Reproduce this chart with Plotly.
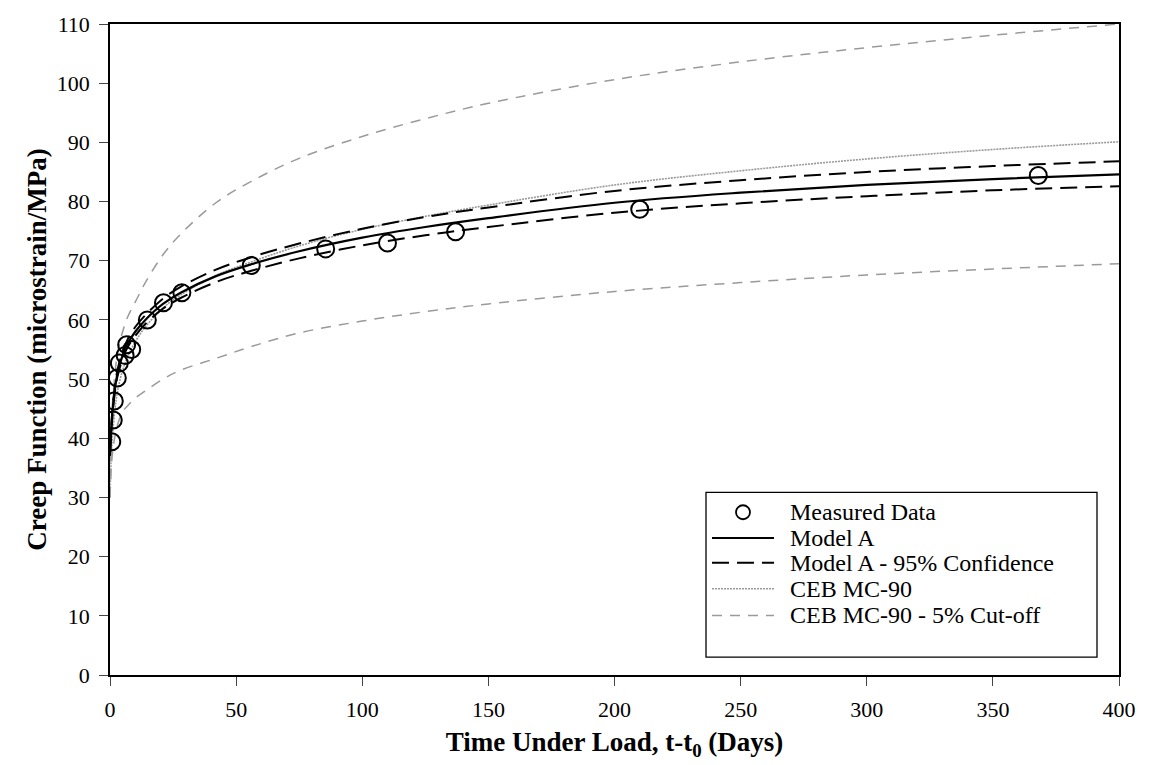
import plotly.graph_objects as go

# Measured creep function
meas_days = [0.7, 1.3, 1.7, 2.9, 3.7, 6.0, 6.6, 8.6, 14.8, 21.2, 28.5, 56, 85.5, 110, 137, 210, 368]
meas_creep = [39.4, 43.1, 46.3, 50.2, 52.7, 54.0, 55.8, 55.0, 60.0, 62.9, 64.6, 69.2, 72.0, 73.0, 74.9, 78.7, 84.4]

# Model prediction times (days)
model_days = [0, 0.5, 1, 2, 3, 5, 7, 10, 14, 21, 28, 42, 56, 75, 100, 125, 150, 200, 250, 300, 350, 400]

model_a = [37.5, 41.5, 44.5, 48.5, 51.0, 54.0, 56.0, 58.0, 60.0, 62.7, 64.6, 67.4, 69.4, 71.6, 73.9, 75.7, 77.2, 79.8, 81.5, 82.8, 83.8, 84.6]
model_a_hi = [38.0, 42.0, 45.0, 49.0, 51.6, 54.6, 56.7, 58.8, 60.8, 63.6, 65.6, 68.5, 70.6, 72.9, 75.4, 77.4, 79.0, 81.8, 83.6, 85.0, 86.0, 86.8]
model_a_lo = [37.0, 41.0, 44.0, 48.0, 50.5, 53.4, 55.4, 57.3, 59.3, 61.9, 63.7, 66.4, 68.3, 70.4, 72.6, 74.3, 75.7, 78.1, 79.7, 80.9, 81.9, 82.6]

ceb = [30.0, 37.0, 40.5, 45.0, 48.0, 51.5, 53.8, 56.3, 58.8, 62.0, 64.2, 67.5, 69.8, 72.5, 75.3, 77.5, 79.4, 82.8, 85.2, 87.2, 88.8, 90.1]
ceb_hi = [30.0, 42.0, 46.0, 51.0, 54.5, 58.0, 60.5, 63.0, 66.3, 71.0, 74.5, 79.8, 83.4, 87.3, 91.0, 94.0, 96.6, 100.6, 103.6, 106.0, 108.1, 110.0]
ceb_lo = [30.0, 35.0, 37.5, 40.5, 42.3, 44.5, 45.5, 46.8, 48.0, 50.0, 51.5, 53.5, 55.5, 57.8, 59.8, 61.4, 62.7, 64.8, 66.3, 67.6, 68.6, 69.5]

x_ticks = [0, 50, 100, 150, 200, 250, 300, 350, 400]
y_ticks = [0, 10, 20, 30, 40, 50, 60, 70, 80, 90, 100, 110]

SERIF = "Liberation Serif, Times New Roman, serif"
GREY = "#9a9a9a"
DASH_A = "17px,8px"
DASH_CEB = "2px,1px"
DASH_CUT = "10px,8px"

fig = go.Figure()

# CEB MC-90 5% cut-off bounds
for bound in (ceb_hi, ceb_lo):
    fig.add_trace(go.Scatter(x=model_days, y=bound, mode="lines", name="CEB MC-90 - 5% Cut-off",
                             line=dict(color=GREY, width=1.5, dash=DASH_CUT, shape="spline")))
# CEB MC-90 mean
fig.add_trace(go.Scatter(x=model_days, y=ceb, mode="lines", name="CEB MC-90",
                         line=dict(color=GREY, width=1.6, dash=DASH_CEB, shape="spline")))
# Model A confidence band
for bound in (model_a_hi, model_a_lo):
    fig.add_trace(go.Scatter(x=model_days, y=bound, mode="lines", name="Model A - 95% Confidence",
                             line=dict(color="black", width=2, dash=DASH_A, shape="spline")))
# Model A
fig.add_trace(go.Scatter(x=model_days, y=model_a, mode="lines", name="Model A",
                         line=dict(color="black", width=2.2, shape="spline")))
# Measured data
fig.add_trace(go.Scatter(x=meas_days, y=meas_creep, mode="markers", name="Measured Data",
                         marker=dict(symbol="circle-open", size=17, color="black", line=dict(width=2))))

# Legend: framed box with sample marks drawn on an overlay axis in pixel units
W, H = 1151, 765
plot_l, plot_r, plot_t, plot_b = 110, 1119, 19, 675

legend_items = [
    ("Measured Data", "marker", None, None),
    ("Model A", "line", "black", "solid"),
    ("Model A - 95% Confidence", "line", "black", DASH_A),
    ("CEB MC-90", "line", GREY, DASH_CEB),
    ("CEB MC-90 - 5% Cut-off", "line", GREY, DASH_CUT),
]
box_l, box_r, box_t, box_b = 706, 1097, 491, 657
row_y = [511, 537, 562, 588, 615]
line_x0, line_x1, mark_x, text_x = 712, 774, 743, 788

fig.add_shape(type="rect", xref="x2", yref="y2", x0=box_l, x1=box_r, y0=box_t, y1=box_b,
              line=dict(color="black", width=1.3), fillcolor="white", layer="below")

for (label, kind, color, dash), ry in zip(legend_items, row_y):
    if kind == "marker":
        fig.add_trace(go.Scatter(x=[mark_x], y=[ry], xaxis="x2", yaxis="y2",
                                 mode="markers", hoverinfo="skip",
                                 marker=dict(symbol="circle-open", size=14, color="black",
                                             line=dict(width=1.8))))
    else:
        fig.add_trace(go.Scatter(x=[line_x0, line_x1], y=[ry, ry], xaxis="x2", yaxis="y2",
                                 mode="lines", hoverinfo="skip",
                                 line=dict(color=color, width=2 if color == "black" else 1.5, dash=dash)))
    fig.add_annotation(x=text_x, y=ry, xref="x2", yref="y2", text=label, showarrow=False,
                       xanchor="left", yanchor="middle",
                       font=dict(family=SERIF, size=24, color="black"))

fig.update_layout(
    width=W, height=H,
    margin=dict(l=plot_l, r=W - plot_r, t=plot_t, b=H - plot_b),
    paper_bgcolor="white", plot_bgcolor="white",
    font=dict(family=SERIF, color="black"),
    showlegend=False,
    xaxis=dict(range=[0, 400], tickvals=x_ticks, ticks="outside", ticklen=9, tickwidth=1.3,
               showline=True, linecolor="black", linewidth=1.5, mirror=True, showgrid=False,
               zeroline=False, tickfont=dict(family=SERIF, size=22), ticklabelstandoff=5,
               title=dict(text="<b>Time Under Load, t-t<sub>0</sub> (Days)</b>",
                          font=dict(family=SERIF, size=27), standoff=11)),
    yaxis=dict(range=[0, 110], tickvals=y_ticks, ticks="outside", ticklen=9, tickwidth=1.3,
               showline=True, linecolor="black", linewidth=1.5, mirror=True, showgrid=False,
               zeroline=False, tickfont=dict(family=SERIF, size=22), ticklabelstandoff=5,
               title=dict(text="<b>Creep Function (microstrain/MPa)</b>",
                          font=dict(family=SERIF, size=27), standoff=2)),
    # pixel-unit overlay used for the legend box
    xaxis2=dict(range=[plot_l, plot_r], overlaying="x", visible=False, fixedrange=True),
    yaxis2=dict(range=[plot_b, plot_t], overlaying="y", visible=False, fixedrange=True),
)

fig.write_html("out.html")
